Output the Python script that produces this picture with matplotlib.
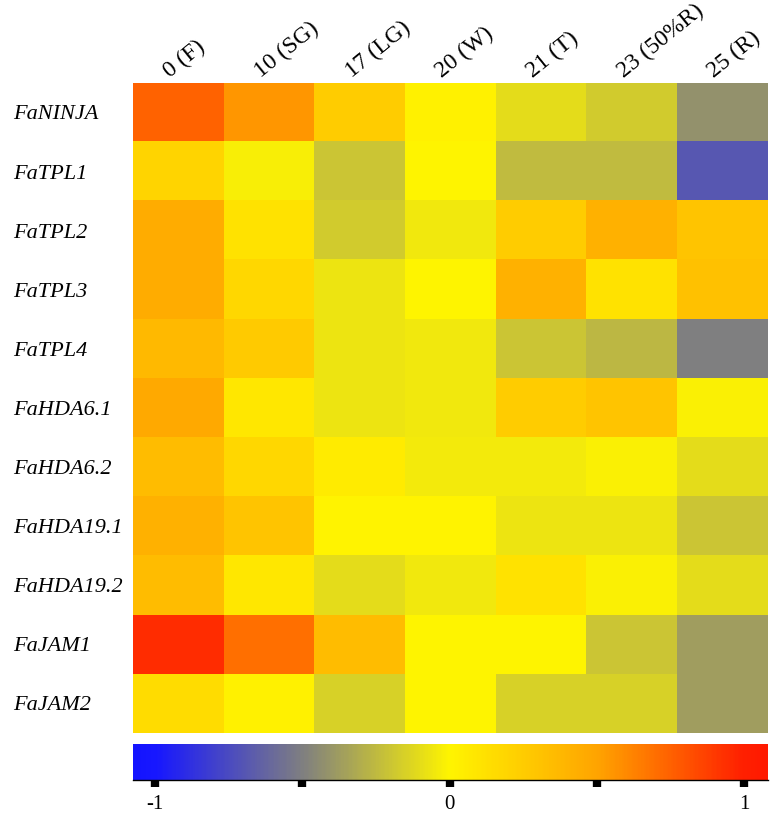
import numpy as np
import matplotlib.pyplot as plt
from matplotlib.colors import LinearSegmentedColormap, Normalize
from matplotlib.transforms import blended_transform_factory

# gene rows and developmental stage columns
genes = ["FaNINJA", "FaTPL1", "FaTPL2", "FaTPL3", "FaTPL4", "FaHDA6.1",
         "FaHDA6.2", "FaHDA19.1", "FaHDA19.2", "FaJAM1", "FaJAM2"]
stages = ["0 (F)", "10 (SG)", "17 (LG)", "20 (W)", "21 (T)", "23 (50%R)", "25 (R)"]

# relative expression (log scale)
faninja = [0.75, 0.55, 0.25, 0.02, -0.10, -0.18, -0.42]
fatpl1 = [0.20, -0.03, -0.20, 0.00, -0.25, -0.25, -0.69]
fatpl2 = [0.45, 0.12, -0.18, -0.05, 0.25, 0.42, 0.30]
fatpl3 = [0.45, 0.18, -0.07, 0.00, 0.42, 0.12, 0.32]
fatpl4 = [0.37, 0.27, -0.07, -0.05, -0.20, -0.26, -0.50]
fahda61 = [0.47, 0.08, -0.07, -0.05, 0.25, 0.30, -0.02]
fahda62 = [0.35, 0.18, 0.06, -0.04, -0.04, -0.02, -0.10]
fahda191 = [0.42, 0.30, 0.01, 0.01, -0.07, -0.07, -0.20]
fahda192 = [0.35, 0.08, -0.10, -0.05, 0.12, -0.02, -0.10]
fajam1 = [0.95, 0.70, 0.35, 0.00, 0.00, -0.20, -0.37]
fajam2 = [0.15, 0.02, -0.15, 0.00, -0.15, -0.15, -0.37]

values = np.array([faninja, fatpl1, fatpl2, fatpl3, fatpl4, fahda61,
                   fahda62, fahda191, fahda192, fajam1, fajam2])

vmin, vmax = -1.075, 1.08
anchors = [(-1.075, "#1414ff"), (-1.0, "#1818ff"), (-0.5, "#808080"), (0.0, "#fff500"),
           (0.5, "#ffa500"), (1.0, "#ff2000"), (1.08, "#ff1a00")]
cmap = LinearSegmentedColormap.from_list(
    "expr", [((v - vmin) / (vmax - vmin), c) for v, c in anchors])
norm = Normalize(vmin=vmin, vmax=vmax)

plt.rcParams['font.family'] = ['Liberation Serif', 'DejaVu Serif']

fig = plt.figure(figsize=(7.78, 8.13), dpi=100)
ax = fig.add_axes([0.171, 0.0984, 0.816, 0.7996])
ax.imshow(values, cmap=cmap, norm=norm, aspect="auto", interpolation="nearest")
ax.set_xticks([])
ax.set_yticks([])
for s in ax.spines.values():
    s.set_visible(False)

# row labels, left aligned near the figure edge
trans = blended_transform_factory(fig.transFigure, ax.transData)
for j, g in enumerate(genes):
    ax.text(0.017, j, g, transform=trans, ha="left", va="center_baseline",
            fontsize=16, fontstyle="italic")

# rotated stage labels above the columns
for i, st in enumerate(stages):
    ax.annotate(st, xy=(i, -0.5), xycoords="data", xytext=(-6, 3.5),
                textcoords="offset points", rotation=39, rotation_mode="anchor",
                ha="left", va="baseline", fontsize=17)

# colour bar
cax = fig.add_axes([0.171, 0.0406, 0.816, 0.0443])
grad = np.linspace(vmin, vmax, 400).reshape(1, -1)
cax.imshow(grad, cmap=cmap, norm=norm, aspect="auto",
           extent=[vmin, vmax, 0, 1])
cax.set_xlim(vmin, vmax)
cax.set_yticks([])
cax.set_xticks([-1, -0.5, 0, 0.5, 1])
cax.set_xticklabels(["-1", "", "0", "", "1"], fontsize=15)
cax.tick_params(axis="x", length=5, width=6, pad=6)
for name in ["top", "left", "right"]:
    cax.spines[name].set_visible(False)
cax.spines["bottom"].set_linewidth(1)

fig.savefig("out.png", dpi=100)
